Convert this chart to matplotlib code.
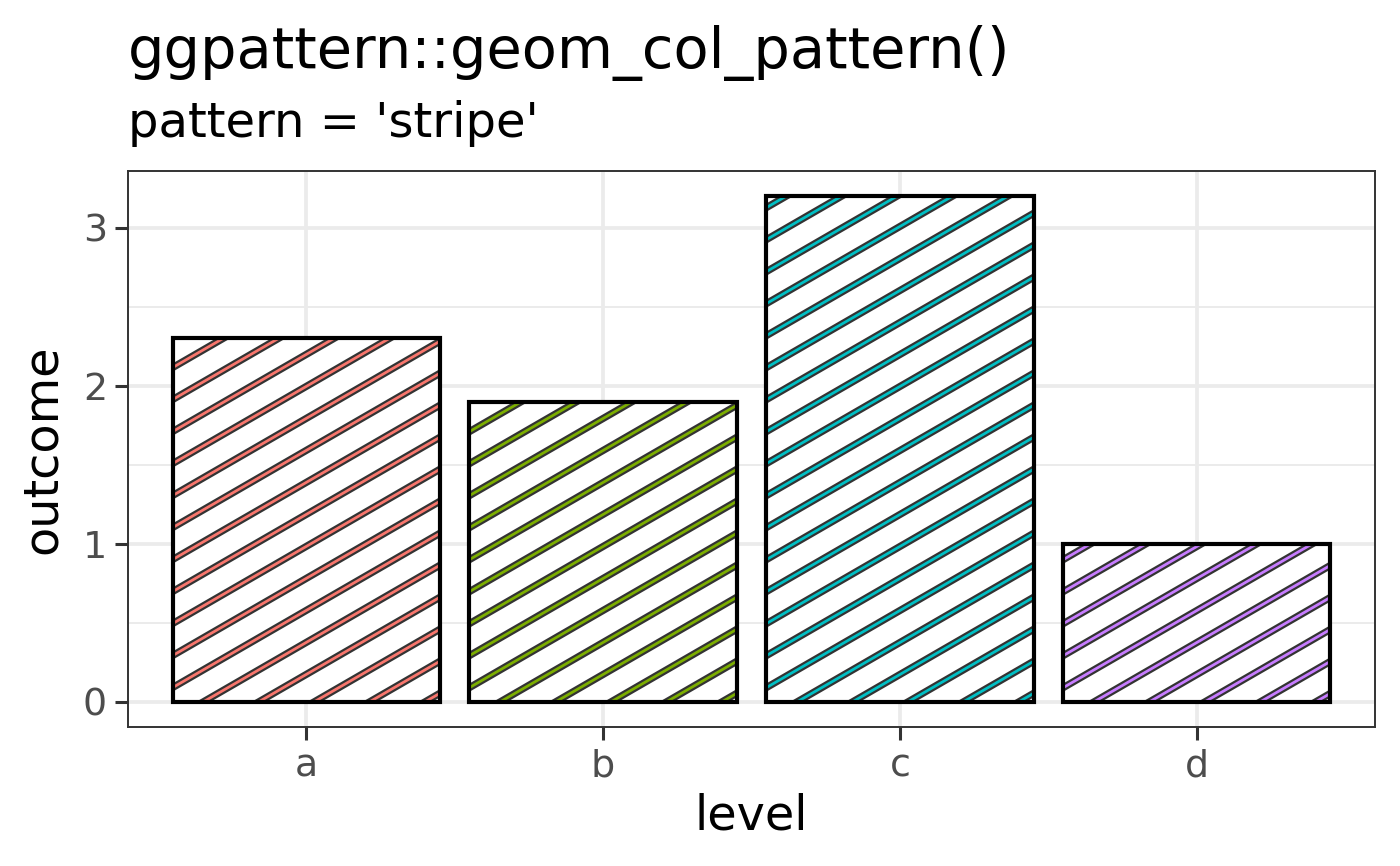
import numpy as np
import matplotlib
matplotlib.use("Agg")
import matplotlib.pyplot as plt
from matplotlib.patches import Rectangle

levels = ["a", "b", "c", "d"]
outcome = [2.3, 1.9, 3.2, 1.0]
fill_colours = ["#F8766D", "#7CAE00", "#00BFC4", "#C77CFF"]
y_ticks = [0, 1, 2, 3]
y_minor = [0.5, 1.5, 2.5]

W, H, DPI = 1400, 866, 200
fig = plt.figure(figsize=(W / DPI, H / DPI), dpi=DPI)
ax = fig.add_axes([128 / W, 1 - 727 / H, (1375 - 128) / W, (727 - 171) / H])

x = np.arange(1, len(levels) + 1)
ax.set_xlim(0.4, len(levels) + 0.6)
ax.set_ylim(-0.16, 3.36)

# grid like theme_bw
for yv in y_minor:
    ax.axhline(yv, color="#EBEBEB", lw=0.7, zorder=0)
for yv in y_ticks:
    ax.axhline(yv, color="#EBEBEB", lw=1.35, zorder=0)
for xv in x:
    ax.axvline(xv, color="#EBEBEB", lw=1.35, zorder=0)

bar_w = 0.9
ang = np.deg2rad(30)
vgap = 32.0  # vertical distance between stripes in pixels
d = vgap * np.cos(ang)
direc = np.array([np.cos(ang), np.sin(ang)])
nrm = np.array([-np.sin(ang), np.cos(ang)])
inv = ax.transData.inverted()

for xi, val, col in zip(x, outcome, fill_colours):
    x0 = xi - bar_w / 2
    base = Rectangle((x0, 0), bar_w, val, facecolor="white", edgecolor="none", zorder=2)
    ax.add_patch(base)
    (X0, Y0), (X1, Y1) = ax.transData.transform([(x0, 0), (x0 + bar_w, val)])
    corners = np.array([(X0, Y0), (X1, Y0), (X0, Y1), (X1, Y1)])
    cs = corners @ nrm
    c0 = np.dot(nrm, (X0 + 31, Y0))
    kmin = int(np.floor((cs.min() - c0) / d)) - 1
    kmax = int(np.ceil((cs.max() - c0) / d)) + 1
    L = 2000
    for k in range(kmin, kmax + 1):
        c = c0 + k * d
        p = c * nrm
        seg = np.array([p - L * direc, p + L * direc])
        seg = inv.transform(seg)
        for lw, lc in [(2.6, "#333333"), (1.0, col)]:
            ln, = ax.plot(seg[:, 0], seg[:, 1], color=lc, lw=lw,
                          solid_capstyle="butt", zorder=3)
            ln.set_clip_path(base)
    ax.add_patch(Rectangle((x0, 0), bar_w, val, facecolor="none",
                           edgecolor="black", lw=1.5, zorder=4))

ax.set_xticks(x)
ax.set_xticklabels(levels)
ax.set_yticks(y_ticks)
ax.tick_params(axis="both", length=4.6, width=1.1, color="#333333",
               labelcolor="#4D4D4D", labelsize=13.7, pad=3)
for s in ax.spines.values():
    s.set_color("#333333")
    s.set_linewidth(0.7)

ax.set_xlabel("level", fontsize=17.2, labelpad=3)
ax.set_ylabel("outcome", fontsize=17.2, labelpad=6)

fig.text(128 / W, 1 - 68 / H, "ggpattern::geom_col_pattern()", fontsize=20.7,
         ha="left", va="baseline")
fig.text(128 / W, 1 - 137 / H, "pattern = 'stripe'", fontsize=17.3,
         ha="left", va="baseline")

fig.savefig("out.png", dpi=DPI)
